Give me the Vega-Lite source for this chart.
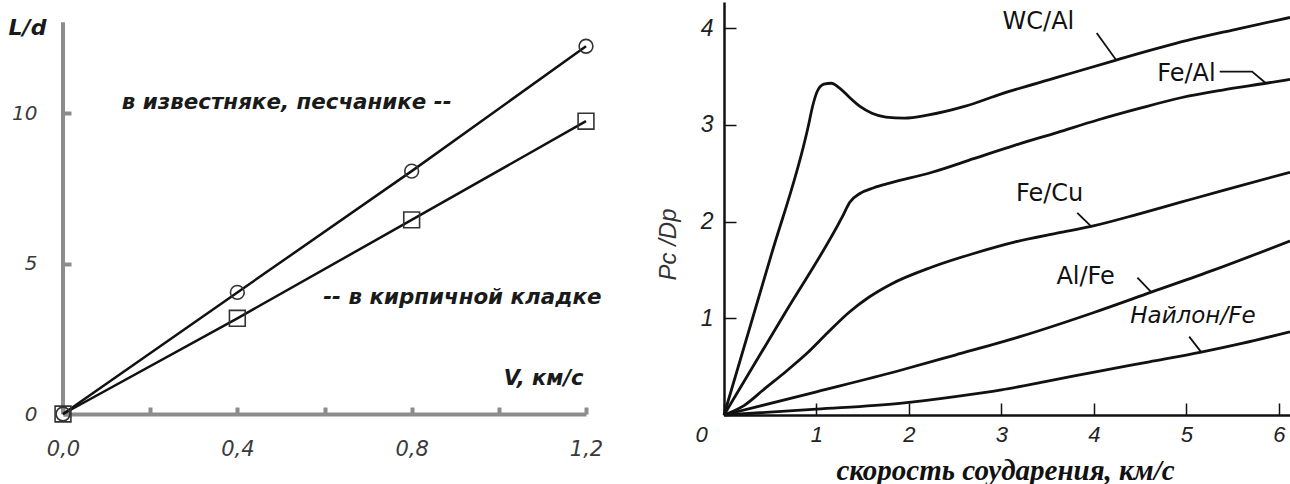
{
  "$schema": "https://vega.github.io/schema/vega-lite/v6.json",
  "background": "white",
  "padding": {"left": 8, "top": 2, "right": 0, "bottom": 0},
  "bounds": "flush",
  "spacing": 138,
  "config": {"view": {"stroke": null}, "axis": {"grid": false}},
  "hconcat": [
    {
      "width": 523,
      "height": 412,
      "data": {"values": [
        {"kind": "yaxis", "v": 0, "ld": 0, "ld2": 13.02},
        {"kind": "pt", "series": "известняк", "v": 0, "ld": 0},
        {"kind": "pt", "series": "известняк", "v": 0.4, "ld": 4.04},
        {"kind": "pt", "series": "известняк", "v": 0.8, "ld": 8.07},
        {"kind": "pt", "series": "известняк", "v": 1.2, "ld": 12.22},
        {"kind": "pt", "series": "кирпич", "v": 0, "ld": 0},
        {"kind": "pt", "series": "кирпич", "v": 0.4, "ld": 3.18},
        {"kind": "pt", "series": "кирпич", "v": 0.8, "ld": 6.45},
        {"kind": "pt", "series": "кирпич", "v": 1.2, "ld": 9.73},
        {"kind": "label", "v": 0.135, "ld": 10.33, "text": "в известняке, песчанике --"},
        {"kind": "label", "v": 0.597, "ld": 3.85, "text": "-- в кирпичной кладке"}
      ]},
      "encoding": {
        "x": {"field": "v", "type": "quantitative",
          "scale": {"domain": [0, 1.2], "nice": false, "zero": false},
          "axis": {"values": [0, 0.2, 0.4, 0.6, 0.8, 1.0, 1.2],
            "labelExpr": "abs(datum.value/0.4 - round(datum.value/0.4)) < 0.01 ? replace(format(datum.value, '.1f'), '.', ',') : ''",
            "labelOverlap": false, "labelFlush": false,
            "domainColor": "#8c8c8c", "domainWidth": 4,
            "tickColor": "#8c8c8c", "tickWidth": 4, "tickSize": -7,
            "labelPadding": 31, "labelFont": "DejaVu Sans", "labelFontSize": 21, "labelFontStyle": "italic", "labelColor": "#3a3a3a",
            "title": "V, км/с", "titleX": 520, "titleY": -36, "titleAlign": "right", "titleBaseline": "middle",
            "titleFont": "DejaVu Sans", "titleFontSize": 21, "titleFontStyle": "italic", "titleFontWeight": "bold", "titleColor": "#1a1a1a"}},
        "y": {"field": "ld", "type": "quantitative",
          "scale": {"domain": [0, 13.69], "nice": false, "zero": false},
          "axis": {"values": [0, 5, 10], "domain": false, "labelOverlap": false, "labelFlush": false,
            "tickColor": "#8c8c8c", "tickWidth": 4, "tickSize": -8,
            "labelPadding": 34, "labelFont": "DejaVu Sans", "labelFontSize": 20, "labelFontStyle": "italic", "labelColor": "#3a3a3a",
            "title": "L/d", "titleAngle": 0, "titleX": -36, "titleY": 25, "titleAlign": "center", "titleBaseline": "middle",
            "titleFont": "DejaVu Sans", "titleFontSize": 22, "titleFontStyle": "italic", "titleFontWeight": "bold", "titleColor": "#1a1a1a"}}
      },
      "layer": [
        {"transform": [{"filter": "datum.kind === 'yaxis'"}],
         "mark": {"type": "rule", "color": "#8c8c8c", "strokeWidth": 4},
         "encoding": {"y2": {"field": "ld2"}}},
        {"transform": [{"filter": "datum.kind === 'pt'"}],
         "mark": {"type": "line", "color": "#111111", "strokeWidth": 2.5},
         "encoding": {"detail": {"field": "series"}}},
        {"transform": [{"filter": "datum.kind === 'pt'"}],
         "mark": {"type": "point", "filled": false, "strokeWidth": 1.6, "color": "#333333", "opacity": 1},
         "encoding": {
           "shape": {"field": "series", "type": "nominal", "scale": {"domain": ["известняк", "кирпич"], "range": ["circle", "square"]}, "legend": null},
           "size": {"field": "series", "type": "nominal", "scale": {"domain": ["известняк", "кирпич"], "range": [190, 250]}, "legend": null}
         }},
        {"transform": [{"filter": "datum.kind === 'label'"}],
         "mark": {"type": "text", "align": "left", "baseline": "middle", "font": "DejaVu Sans", "fontSize": 21.4, "fontStyle": "italic", "fontWeight": "bold", "color": "#1a1a1a"},
         "encoding": {"text": {"field": "text"}}}
      ]
    },
    {
      "width": 566,
      "height": 413,
      "data": {"values": [
        {"kind": "curve", "s": "WC/Al", "v": 0, "p": 0},
        {"kind": "curve", "s": "WC/Al", "v": 0.5, "p": 1.62},
        {"kind": "curve", "s": "WC/Al", "v": 0.91, "p": 2.98},
        {"kind": "curve", "s": "WC/Al", "v": 0.96, "p": 3.2},
        {"kind": "curve", "s": "WC/Al", "v": 1.01, "p": 3.35},
        {"kind": "curve", "s": "WC/Al", "v": 1.08, "p": 3.42},
        {"kind": "curve", "s": "WC/Al", "v": 1.16, "p": 3.43},
        {"kind": "curve", "s": "WC/Al", "v": 1.25, "p": 3.38},
        {"kind": "curve", "s": "WC/Al", "v": 1.35, "p": 3.29},
        {"kind": "curve", "s": "WC/Al", "v": 1.47, "p": 3.19},
        {"kind": "curve", "s": "WC/Al", "v": 1.6, "p": 3.12},
        {"kind": "curve", "s": "WC/Al", "v": 1.75, "p": 3.08},
        {"kind": "curve", "s": "WC/Al", "v": 1.95, "p": 3.07},
        {"kind": "curve", "s": "WC/Al", "v": 2.2, "p": 3.1},
        {"kind": "curve", "s": "WC/Al", "v": 2.6, "p": 3.19},
        {"kind": "curve", "s": "WC/Al", "v": 3.0, "p": 3.32},
        {"kind": "curve", "s": "WC/Al", "v": 3.6, "p": 3.49},
        {"kind": "curve", "s": "WC/Al", "v": 4.24, "p": 3.67},
        {"kind": "curve", "s": "WC/Al", "v": 5.0, "p": 3.87},
        {"kind": "curve", "s": "WC/Al", "v": 5.5, "p": 3.98},
        {"kind": "curve", "s": "WC/Al", "v": 6.12, "p": 4.11},
        {"kind": "curve", "s": "Fe/Al", "v": 0, "p": 0},
        {"kind": "curve", "s": "Fe/Al", "v": 0.65, "p": 1.04},
        {"kind": "curve", "s": "Fe/Al", "v": 1.28, "p": 2.05},
        {"kind": "curve", "s": "Fe/Al", "v": 1.36, "p": 2.2},
        {"kind": "curve", "s": "Fe/Al", "v": 1.47, "p": 2.29},
        {"kind": "curve", "s": "Fe/Al", "v": 1.62, "p": 2.35},
        {"kind": "curve", "s": "Fe/Al", "v": 1.8, "p": 2.4},
        {"kind": "curve", "s": "Fe/Al", "v": 2.25, "p": 2.51},
        {"kind": "curve", "s": "Fe/Al", "v": 2.7, "p": 2.65},
        {"kind": "curve", "s": "Fe/Al", "v": 3.15, "p": 2.79},
        {"kind": "curve", "s": "Fe/Al", "v": 3.6, "p": 2.92},
        {"kind": "curve", "s": "Fe/Al", "v": 4.04, "p": 3.05},
        {"kind": "curve", "s": "Fe/Al", "v": 4.49, "p": 3.17},
        {"kind": "curve", "s": "Fe/Al", "v": 4.94, "p": 3.28},
        {"kind": "curve", "s": "Fe/Al", "v": 5.39, "p": 3.36},
        {"kind": "curve", "s": "Fe/Al", "v": 5.86, "p": 3.43},
        {"kind": "curve", "s": "Fe/Al", "v": 6.12, "p": 3.47},
        {"kind": "curve", "s": "Fe/Cu", "v": 0, "p": 0},
        {"kind": "curve", "s": "Fe/Cu", "v": 0.22, "p": 0.1},
        {"kind": "curve", "s": "Fe/Cu", "v": 0.45, "p": 0.28},
        {"kind": "curve", "s": "Fe/Cu", "v": 0.67, "p": 0.45},
        {"kind": "curve", "s": "Fe/Cu", "v": 0.9, "p": 0.64},
        {"kind": "curve", "s": "Fe/Cu", "v": 1.12, "p": 0.85},
        {"kind": "curve", "s": "Fe/Cu", "v": 1.35, "p": 1.06},
        {"kind": "curve", "s": "Fe/Cu", "v": 1.57, "p": 1.22},
        {"kind": "curve", "s": "Fe/Cu", "v": 1.8, "p": 1.35},
        {"kind": "curve", "s": "Fe/Cu", "v": 2.25, "p": 1.53},
        {"kind": "curve", "s": "Fe/Cu", "v": 2.7, "p": 1.67},
        {"kind": "curve", "s": "Fe/Cu", "v": 3.15, "p": 1.79},
        {"kind": "curve", "s": "Fe/Cu", "v": 3.6, "p": 1.88},
        {"kind": "curve", "s": "Fe/Cu", "v": 3.97, "p": 1.95},
        {"kind": "curve", "s": "Fe/Cu", "v": 4.49, "p": 2.08},
        {"kind": "curve", "s": "Fe/Cu", "v": 4.94, "p": 2.2},
        {"kind": "curve", "s": "Fe/Cu", "v": 5.39, "p": 2.32},
        {"kind": "curve", "s": "Fe/Cu", "v": 6.12, "p": 2.51},
        {"kind": "curve", "s": "Al/Fe", "v": 0, "p": 0},
        {"kind": "curve", "s": "Al/Fe", "v": 1, "p": 0.24},
        {"kind": "curve", "s": "Al/Fe", "v": 1.9, "p": 0.46},
        {"kind": "curve", "s": "Al/Fe", "v": 2.5, "p": 0.62},
        {"kind": "curve", "s": "Al/Fe", "v": 3.2, "p": 0.81},
        {"kind": "curve", "s": "Al/Fe", "v": 4.0, "p": 1.06},
        {"kind": "curve", "s": "Al/Fe", "v": 4.62, "p": 1.27},
        {"kind": "curve", "s": "Al/Fe", "v": 5.3, "p": 1.5},
        {"kind": "curve", "s": "Al/Fe", "v": 6.12, "p": 1.8},
        {"kind": "curve", "s": "Найлон/Fe", "v": 0, "p": 0},
        {"kind": "curve", "s": "Найлон/Fe", "v": 1, "p": 0.06},
        {"kind": "curve", "s": "Найлон/Fe", "v": 1.9, "p": 0.12},
        {"kind": "curve", "s": "Найлон/Fe", "v": 2.5, "p": 0.19},
        {"kind": "curve", "s": "Найлон/Fe", "v": 3.0, "p": 0.26},
        {"kind": "curve", "s": "Найлон/Fe", "v": 3.5, "p": 0.35},
        {"kind": "curve", "s": "Найлон/Fe", "v": 4.09, "p": 0.46},
        {"kind": "curve", "s": "Найлон/Fe", "v": 4.6, "p": 0.55},
        {"kind": "curve", "s": "Найлон/Fe", "v": 5.16, "p": 0.65},
        {"kind": "curve", "s": "Найлон/Fe", "v": 5.6, "p": 0.74},
        {"kind": "curve", "s": "Найлон/Fe", "v": 6.12, "p": 0.86},
        {"kind": "leader", "s": "WC/Al", "v": 4.03, "p": 3.95},
        {"kind": "leader", "s": "WC/Al", "v": 4.24, "p": 3.67},
        {"kind": "leader", "s": "Fe/Al", "v": 5.36, "p": 3.55},
        {"kind": "leader", "s": "Fe/Al", "v": 5.71, "p": 3.55},
        {"kind": "leader", "s": "Fe/Al", "v": 5.86, "p": 3.43},
        {"kind": "leader", "s": "Fe/Cu", "v": 3.82, "p": 2.09},
        {"kind": "leader", "s": "Fe/Cu", "v": 3.97, "p": 1.95},
        {"kind": "leader", "s": "Al/Fe", "v": 4.47, "p": 1.42},
        {"kind": "leader", "s": "Al/Fe", "v": 4.62, "p": 1.27},
        {"kind": "leader", "s": "Найлон/Fe", "v": 5.03, "p": 0.81},
        {"kind": "leader", "s": "Найлон/Fe", "v": 5.16, "p": 0.65},
        {"kind": "label", "s": "WC/Al", "v": 3.40, "p": 4.06, "text": "WC/Al"},
        {"kind": "label", "s": "Fe/Al", "v": 5.0, "p": 3.53, "text": "Fe/Al"},
        {"kind": "label", "s": "Fe/Cu", "v": 3.52, "p": 2.28, "text": "Fe/Cu"},
        {"kind": "label", "s": "Al/Fe", "v": 3.91, "p": 1.43, "text": "Al/Fe"},
        {"kind": "ilabel", "s": "Найлон/Fe", "v": 5.07, "p": 1.02, "text": "Найлон/Fe"}
      ]},
      "encoding": {
        "x": {"field": "v", "type": "quantitative",
          "scale": {"domain": [0, 6.12], "nice": false, "zero": false},
          "axis": {"values": [0, 1, 2, 3, 4, 5, 6], "format": "d", "labelOverlap": false, "labelFlush": false,
            "domainColor": "#111111", "domainWidth": 2.5,
            "tickColor": "#111111", "tickWidth": 1.5, "tickSize": -12,
            "labelPadding": 21, "labelFont": "Liberation Sans", "labelFontSize": 22, "labelFontStyle": "italic", "labelColor": "#222222",
            "labelOffset": {"condition": {"test": "datum.value === 0", "value": -23}, "value": 0},
            "title": "скорость соударения, км/с", "titleX": 281, "titleY": 55, "titleAlign": "center", "titleBaseline": "middle",
            "titleFont": "Liberation Serif", "titleFontSize": 29, "titleFontStyle": "italic", "titleFontWeight": "bold", "titleColor": "#111111"}},
        "y": {"field": "p", "type": "quantitative",
          "scale": {"domain": [0, 4.27], "nice": false, "zero": false},
          "axis": {"values": [1, 2, 3, 4], "labelOverlap": false, "labelFlush": false,
            "domainColor": "#111111", "domainWidth": 2.5,
            "tickColor": "#111111", "tickWidth": 1.5, "tickSize": -12,
            "labelPadding": 23, "labelFont": "Liberation Sans", "labelFontSize": 23, "labelFontStyle": "italic", "labelColor": "#222222",
            "title": "Pc /Dp", "titleAngle": 270, "titleX": -56, "titleY": 242, "titleAlign": "center", "titleBaseline": "middle",
            "titleFont": "Liberation Sans", "titleFontSize": 24, "titleFontStyle": "italic", "titleFontWeight": "normal", "titleColor": "#333333"}}
      },
      "layer": [
        {"transform": [{"filter": "datum.kind === 'curve'"}],
         "mark": {"type": "line", "color": "#111111", "strokeWidth": 2.8, "interpolate": "monotone"},
         "encoding": {"detail": {"field": "s"}}},
        {"transform": [{"filter": "datum.kind === 'leader'"}],
         "mark": {"type": "line", "color": "#111111", "strokeWidth": 1.8},
         "encoding": {"detail": {"field": "s"}}},
        {"transform": [{"filter": "datum.kind === 'label'"}],
         "mark": {"type": "text", "align": "center", "baseline": "middle", "font": "DejaVu Sans", "fontSize": 24, "color": "#111111"},
         "encoding": {"text": {"field": "text"}}},
        {"transform": [{"filter": "datum.kind === 'ilabel'"}],
         "mark": {"type": "text", "align": "center", "baseline": "middle", "font": "DejaVu Sans", "fontSize": 23, "fontStyle": "italic", "color": "#111111"},
         "encoding": {"text": {"field": "text"}}}
      ]
    }
  ]
}
